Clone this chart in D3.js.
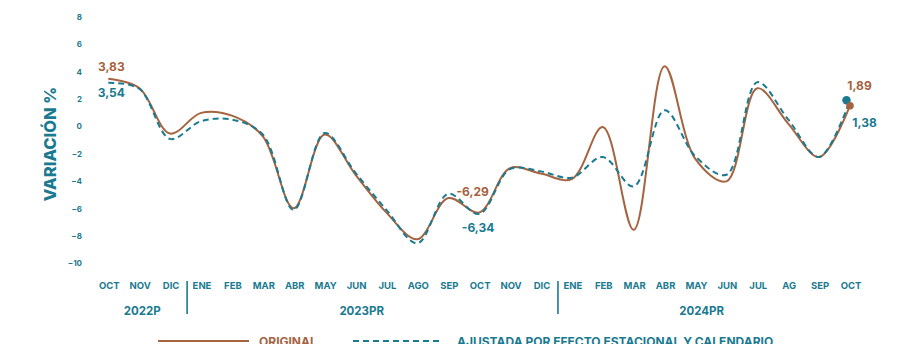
<!DOCTYPE html>
<html>
<head>
<meta charset="utf-8">
<script src="https://cdn.jsdelivr.net/npm/d3@7"></script>
<style>
  html, body { margin: 0; padding: 0; background: #ffffff; }
  svg { display: block; font-family: "Inter", "Open Sans", sans-serif; }
</style>
</head>
<body>
<svg id="chart" width="903" height="344"></svg>
<script>
// ---- data ----
const months = ["OCT","NOV","DIC","ENE","FEB","MAR","ABR","MAY","JUN","JUL","AGO","SEP",
                "OCT","NOV","DIC","ENE","FEB","MAR","ABR","MAY","JUN","JUL","AG","SEP","OCT"];
const original = [3.47, 2.8, -0.53, 0.98, 0.78, -0.73, -5.98, -0.6, -3.54, -6.3, -8.24, -5.24,
                  -6.29, -3.05, -3.45, -3.85, -0.05, -7.56, 4.39, -2.4, -4.02, 2.78, 0.2, -2.24, 1.5];
const adjusted = [3.18, 2.74, -0.92, 0.37, 0.49, -0.6, -6.1, -0.49, -3.4, -6.1, -8.54, -4.93,
                  -6.4, -3.12, -3.29, -3.75, -2.24, -4.39, 1.17, -2.2, -3.54, 3.22, 0.5, -2.24, 1.9];
const yTicks = [8, 6, 4, 2, 0, -2, -4, -6, -8, -10];
const years = ["2022P", "2023PR", "2024PR"];
const yearCenters = [1.1, 8.2, 19.2];      // month-index position of each year label
const yearBreaks = [3, 15];                // first month index of a new year
const seriesNames = ["ORIGINAL", "AJUSTADA POR EFECTO ESTACIONAL Y CALENDARIO"];
const firstLabels = ["3,83", "3,54"];
const midLabels = ["-6,29", "-6,34"];
const lastLabels = ["1,89", "1,38"];
const midIndex = 12;

// ---- styles ----
const BROWN = "#a5633f";
const TEAL = "#1a7a90";

const svg = d3.select("#chart");
const x = d3.scaleLinear().domain([0, months.length - 1]).range([108.3, 850]);
const y = d3.scaleLinear().domain([-10, 8]).range([263.3, 16.7]);

// y axis
const yAxis = svg.append("g")
  .attr("transform", "translate(82,0)")
  .call(d3.axisLeft(y).tickValues(yTicks).tickSize(0).tickPadding(0).tickFormat(d3.format("d")));
yAxis.select(".domain").remove();
yAxis.selectAll("text")
  .attr("fill", TEAL).attr("font-size", 8).attr("font-weight", 700)
  .attr("font-family", "Inter, sans-serif");

// y title
svg.append("text")
  .attr("transform", "translate(56,144) rotate(-90)")
  .attr("text-anchor", "middle")
  .attr("fill", TEAL).attr("font-size", 16.5).attr("font-weight", 800)
  .text("VARIACIÓN %");

// month labels
svg.append("g").selectAll("text").data(months).join("text")
  .attr("x", (d, i) => x(i) + 1)
  .attr("y", 288.5)
  .attr("text-anchor", "middle")
  .attr("fill", TEAL).attr("font-size", 9.5).attr("font-weight", 700)
  .text(d => d);

// year labels
svg.append("g").selectAll("text").data(years).join("text")
  .attr("x", (d, i) => x(yearCenters[i]))
  .attr("y", 315)
  .attr("text-anchor", "middle")
  .attr("fill", TEAL).attr("font-size", 11.5).attr("font-weight", 700)
  .text(d => d);

// year separators
svg.append("g").selectAll("line").data(yearBreaks).join("line")
  .attr("x1", d => x(d - 0.45)).attr("x2", d => x(d - 0.45))
  .attr("y1", 281).attr("y2", 314)
  .attr("stroke", TEAL).attr("stroke-width", 1.6);

// lines
const line = d3.line().x((d, i) => x(i)).y(d => y(d)).curve(d3.curveCatmullRom.alpha(0.5));

svg.append("path").datum(original)
  .attr("d", line).attr("fill", "none")
  .attr("stroke", BROWN).attr("stroke-width", 2);

svg.append("path").datum(adjusted)
  .attr("d", line).attr("fill", "none")
  .attr("stroke", TEAL).attr("stroke-width", 2).attr("stroke-dasharray", "6,4");

// end dots
const last = months.length - 1;
svg.append("circle").attr("cx", x(last) - 3.5).attr("cy", y(adjusted[last])).attr("r", 4.2).attr("fill", TEAL);
svg.append("circle").attr("cx", x(last)).attr("cy", y(original[last])).attr("r", 3.8).attr("fill", BROWN);

// value annotations
function ann(txt, xx, yy, color) {
  svg.append("text").attr("x", xx).attr("y", yy)
    .attr("text-anchor", "middle")
    .attr("fill", color).attr("font-size", 12).attr("font-weight", 700)
    .text(txt);
}
ann(firstLabels[0], x(0) + 3, y(original[0]) - 8, BROWN);
ann(firstLabels[1], x(0) + 3, y(adjusted[0]) + 14, TEAL);
ann(midLabels[0], x(midIndex) - 6.5, y(original[midIndex]) - 16.5, BROWN);
ann(midLabels[1], x(midIndex) - 1, y(adjusted[midIndex]) + 18.5, TEAL);
ann(lastLabels[0], x(last) + 9.5, y(original[last]) - 15.7, BROWN);
ann(lastLabels[1], x(last) + 14.5, y(original[last]) + 21, TEAL);

// legend
const lg = svg.append("g");
lg.append("line").attr("x1", 158).attr("x2", 249).attr("y1", 341).attr("y2", 341)
  .attr("stroke", BROWN).attr("stroke-width", 2);
lg.append("text").attr("x", 259).attr("y", 346)
  .attr("fill", BROWN).attr("font-size", 12).attr("font-weight", 700).text(seriesNames[0]);
lg.append("line").attr("x1", 353).attr("x2", 442).attr("y1", 341).attr("y2", 341)
  .attr("stroke", TEAL).attr("stroke-width", 2).attr("stroke-dasharray", "6,4");
lg.append("text").attr("x", 457).attr("y", 346)
  .attr("fill", TEAL).attr("font-size", 12).attr("font-weight", 700).text(seriesNames[1]);
</script>
</body>
</html>
